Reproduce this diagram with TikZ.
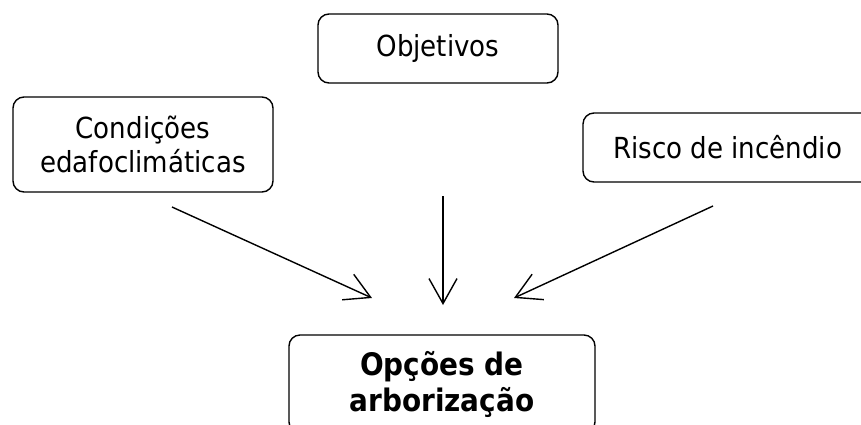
\documentclass[tikz,border=0pt]{standalone}
\usepackage{fontspec}
\setmainfont{DejaVu Sans Condensed}
\usetikzlibrary{arrows.meta}
\tikzset{
  box/.style={draw=black, line width=1.4pt, rounded corners=11pt, align=center, inner sep=0pt,
    font=\fontsize{29}{34}\selectfont},
  conn/.style={draw=black, line width=1.4pt, -{Straight Barb[length=25pt,width=28pt,line width=1.4pt]}}
}
\begin{document}
\begin{tikzpicture}[x=1pt,y=-1pt]
\useasboundingbox (0,0) rectangle (861,424);
\clip (0,0) rectangle (861,424);
\node[box, minimum width=260pt, minimum height=95pt] (cond) at (143,144.5) {Condições\\edafoclimáticas};
\node[box, minimum width=240pt, minimum height=69pt] (obj) at (438,48.5) {Objetivos};
\node[box, minimum width=289pt, minimum height=69pt] (risco) at (727.5,147.5) {Risco de incêndio};
\node[box, minimum width=306pt, minimum height=98pt, font=\fontsize{31}{36}\selectfont\bfseries] (opc) at (442,384) {Opções de\\arborização};
\coordinate (s1) at (172,207);
\coordinate (t1) at (372,298);
\coordinate (s2) at (443,196);
\coordinate (t2) at (443,305);
\coordinate (s3) at (713,206);
\coordinate (t3) at (514,298);
\draw[conn] (s1) -- (t1);
\draw[conn] (s2) -- (t2);
\draw[conn] (s3) -- (t3);
\end{tikzpicture}
\end{document}
